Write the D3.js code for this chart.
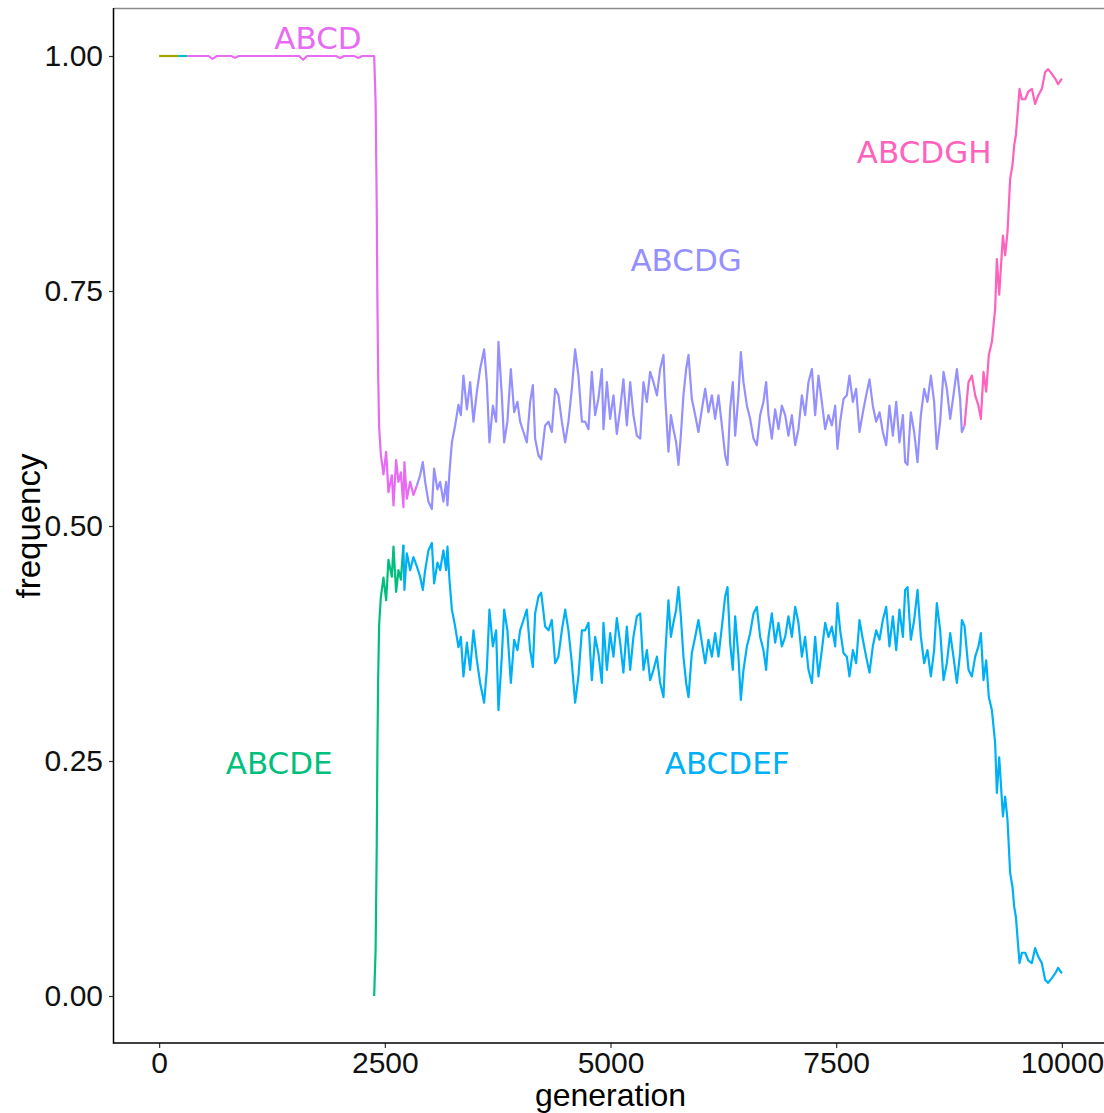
<!DOCTYPE html>
<html>
<head>
<meta charset="utf-8">
<script src="https://cdn.jsdelivr.net/npm/d3@7"></script>
<style>
  html, body { margin: 0; padding: 0; background: #fff; }
  svg { display: block; }
</style>
</head>
<body>
<svg id="chart" width="1104" height="1113"></svg>
<script>
// [generation, frequency] pairs, one array per genotype
const early1 = [[0, 1], [210, 1]];
const early2 = [[210, 1], [310, 1]];
const ABCD = [[310,1],[550,1],[590,0.997],[640,1],[800,1],[842,0.998],[880,1],[1550,1],[1595,0.996],[1640,1],[1960,1],[2005,0.998],
  [2050,1],[2160,1],[2204,0.998],[2250,1],[2374,1],
  [2382,1.000],[2398,0.951],[2410,0.845],[2418,0.738],[2426,0.664],[2437,0.605],[2456,0.576],[2485,0.555],[2515,0.579],[2540,0.536],
  [2578,0.554],[2596,0.522],[2625,0.570],[2651,0.547],[2678,0.557],[2706,0.520],[2717,0.568],[2744,0.529],[2781,0.547],[2817,0.533],[2855,0.543]];
const ABCDE = [[2382,0.000],[2398,0.049],[2410,0.155],[2418,0.262],[2426,0.336],[2437,0.395],[2456,0.424],[2485,0.445],[2515,0.421],
  [2540,0.464],[2578,0.446],[2596,0.478],[2625,0.430],[2651,0.453],[2678,0.443],[2706,0.480]];
const ABCDEF = [[2706,0.480],[2717,0.432],[2744,0.471],[2781,0.453],[2817,0.467],[2855,0.457],[2891,0.446],[2921,0.432],[2947,0.453],
  [2983,0.474],[3021,0.482],[3046,0.439],[3083,0.461],[3113,0.453],[3149,0.474],[3179,0.453],[3194,0.478],[3216,0.443],[3243,0.411],
  [3279,0.393],[3316,0.371],[3342,0.382],[3371,0.340],[3409,0.376],[3445,0.347],[3482,0.389],[3520,0.357],[3556,0.333],[3600,0.312],
  [3630,0.347],[3659,0.411],[3697,0.372],[3733,0.389],[3759,0.304],[3796,0.361],[3822,0.411],[3858,0.389],[3896,0.333],[3933,0.379],
  [3969,0.368],[3999,0.389],[4036,0.400],[4073,0.411],[4110,0.368],[4140,0.350],[4165,0.407],[4202,0.425],[4232,0.429],[4276,0.393],
  [4313,0.389],[4350,0.400],[4387,0.354],[4423,0.361],[4461,0.389],[4498,0.411],[4534,0.389],[4572,0.354],[4608,0.312],[4645,0.340],
  [4683,0.389],[4719,0.389],[4756,0.397],[4793,0.336],[4830,0.382],[4867,0.364],[4904,0.333],[4922,0.397],[4960,0.347],[4996,0.386],
  [5033,0.361],[5070,0.402],[5107,0.376],[5143,0.344],[5181,0.393],[5218,0.347],[5254,0.382],[5292,0.404],[5329,0.407],[5365,0.347],
  [5403,0.368],[5439,0.336],[5476,0.347],[5514,0.361],[5550,0.333],[5587,0.318],[5605,0.361],[5642,0.421],[5669,0.382],[5697,0.397],
  [5727,0.411],[5753,0.435],[5779,0.404],[5808,0.361],[5838,0.333],[5864,0.318],[5901,0.365],[5938,0.382],[5974,0.400],[6012,0.376],
  [6049,0.354],[6085,0.379],[6123,0.361],[6159,0.386],[6196,0.361],[6234,0.393],[6270,0.425],[6296,0.435],[6325,0.376],[6355,0.347],
  [6381,0.404],[6417,0.361],[6444,0.315],[6473,0.347],[6511,0.372],[6547,0.386],[6584,0.407],[6621,0.414],[6658,0.382],[6694,0.368],
  [6724,0.347],[6750,0.382],[6787,0.407],[6824,0.376],[6861,0.397],[6898,0.372],[6935,0.382],[6971,0.404],[7009,0.382],[7046,0.414],
  [7082,0.397],[7120,0.361],[7156,0.382],[7193,0.347],[7231,0.333],[7267,0.382],[7304,0.340],[7341,0.368],[7378,0.397],[7415,0.382],
  [7452,0.393],[7489,0.372],[7514,0.418],[7544,0.389],[7581,0.365],[7618,0.361],[7647,0.340],[7685,0.368],[7721,0.354],[7758,0.400],
  [7796,0.379],[7832,0.361],[7869,0.344],[7906,0.372],[7943,0.389],[7980,0.379],[8017,0.400],[8054,0.414],[8090,0.372],[8128,0.404],
  [8165,0.368],[8201,0.411],[8239,0.382],[8264,0.432],[8290,0.435],[8327,0.379],[8364,0.400],[8401,0.432],[8438,0.382],[8475,0.354],
  [8511,0.368],[8549,0.340],[8585,0.368],[8615,0.418],[8652,0.389],[8689,0.336],[8726,0.354],[8763,0.386],[8799,0.361],[8837,0.333],
  [8873,0.365],[8892,0.400],[8921,0.394],[8966,0.347],[9003,0.340],[9040,0.361],[9076,0.372],[9103,0.386],[9132,0.336],[9162,0.357],
  [9191,0.318],[9225,0.304],[9261,0.269],[9280,0.216],[9306,0.254],[9347,0.191],[9372,0.212],[9398,0.187],[9427,0.131],[9453,0.116],
  [9472,0.095],[9491,0.084],[9531,0.035],[9557,0.046],[9594,0.046],[9627,0.038],[9668,0.035],[9704,0.051],[9738,0.042],[9778,0.035],
  [9815,0.017],[9848,0.014],[9889,0.019],[9926,0.024],[9959,0.030],[10000,0.024]];
const ABCDG = [[2855,0.543],[2891,0.554],[2921,0.568],[2947,0.547],[2983,0.526],[3021,0.518],[3046,0.561],[3083,0.539],[3113,0.547],
  [3149,0.526],[3179,0.547],[3194,0.522],[3216,0.557],[3243,0.589],[3279,0.607],[3316,0.629],[3342,0.618],[3371,0.660],[3409,0.624],
  [3445,0.653],[3482,0.611],[3520,0.643],[3556,0.667],[3600,0.688],[3630,0.653],[3659,0.589],[3697,0.628],[3733,0.611],[3759,0.696],
  [3796,0.639],[3822,0.589],[3858,0.611],[3896,0.667],[3933,0.621],[3969,0.632],[3999,0.611],[4036,0.600],[4073,0.589],[4110,0.632],
  [4140,0.650],[4165,0.593],[4202,0.575],[4232,0.571],[4276,0.607],[4313,0.611],[4350,0.600],[4387,0.646],[4423,0.639],[4461,0.611],
  [4498,0.589],[4534,0.611],[4572,0.646],[4608,0.688],[4645,0.660],[4683,0.611],[4719,0.611],[4756,0.603],[4793,0.664],[4830,0.618],
  [4867,0.636],[4904,0.667],[4922,0.603],[4960,0.653],[4996,0.614],[5033,0.639],[5070,0.598],[5107,0.624],[5143,0.656],[5181,0.607],
  [5218,0.653],[5254,0.618],[5292,0.596],[5329,0.593],[5365,0.653],[5403,0.632],[5439,0.664],[5476,0.653],[5514,0.639],[5550,0.667],
  [5587,0.682],[5605,0.639],[5642,0.579],[5669,0.618],[5697,0.603],[5727,0.589],[5753,0.565],[5779,0.596],[5808,0.639],[5838,0.667],
  [5864,0.682],[5901,0.635],[5938,0.618],[5974,0.600],[6012,0.624],[6049,0.646],[6085,0.621],[6123,0.639],[6159,0.614],[6196,0.639],
  [6234,0.607],[6270,0.575],[6296,0.565],[6325,0.624],[6355,0.653],[6381,0.596],[6417,0.639],[6444,0.685],[6473,0.653],[6511,0.628],
  [6547,0.614],[6584,0.593],[6621,0.586],[6658,0.618],[6694,0.632],[6724,0.653],[6750,0.618],[6787,0.593],[6824,0.624],[6861,0.603],
  [6898,0.628],[6935,0.618],[6971,0.596],[7009,0.618],[7046,0.586],[7082,0.603],[7120,0.639],[7156,0.618],[7193,0.653],[7231,0.667],
  [7267,0.618],[7304,0.660],[7341,0.632],[7378,0.603],[7415,0.618],[7452,0.607],[7489,0.628],[7514,0.582],[7544,0.611],[7581,0.635],
  [7618,0.639],[7647,0.660],[7685,0.632],[7721,0.646],[7758,0.600],[7796,0.621],[7832,0.639],[7869,0.656],[7906,0.628],[7943,0.611],
  [7980,0.621],[8017,0.600],[8054,0.586],[8090,0.628],[8128,0.596],[8165,0.632],[8201,0.589],[8239,0.618],[8264,0.568],[8290,0.565],
  [8327,0.621],[8364,0.600],[8401,0.568],[8438,0.618],[8475,0.646],[8511,0.632],[8549,0.660],[8585,0.632],[8615,0.582],[8652,0.611],
  [8689,0.664],[8726,0.646],[8763,0.614],[8799,0.639],[8837,0.667],[8873,0.635],[8892,0.600],[8921,0.606]];
const ABCDGH = [[8921,0.606],[8966,0.653],[9003,0.660],[9040,0.639],[9076,0.628],[9103,0.614],[9132,0.664],[9162,0.643],[9191,0.682],
  [9225,0.696],[9261,0.731],[9280,0.784],[9306,0.746],[9347,0.809],[9372,0.788],[9398,0.813],[9427,0.869],[9453,0.884],[9472,0.905],
  [9491,0.916],[9531,0.965],[9557,0.954],[9594,0.954],[9627,0.962],[9668,0.965],[9704,0.949],[9738,0.958],[9778,0.965],[9815,0.983],
  [9848,0.986],[9889,0.981],[9926,0.976],[9959,0.970],[10000,0.976]];

const xTicks = [0, 2500, 5000, 7500, 10000];
const yTicks = [0, 0.25, 0.5, 0.75, 1];

// series in drawing order, with colours from ggplot's hue palette
const series = [
  { name: "early1", data: early1, color: "#A3A500" },
  { name: "early2", data: early2, color: "#00BFC4" },
  { name: "ABCD", data: ABCD, color: "#E76BF3" },
  { name: "ABCDE", data: ABCDE, color: "#00BF7D" },
  { name: "ABCDEF", data: ABCDEF, color: "#00B0F6" },
  { name: "ABCDG", data: ABCDG, color: "#9590FF" },
  { name: "ABCDGH", data: ABCDGH, color: "#FF62BC" },
];

// label positions, in data units
const labels = [
  { text: "ABCD", gen: 1760, freq: 1.019, color: "#E76BF3" },
  { text: "ABCDGH", gen: 8475, freq: 0.898, color: "#FF62BC" },
  { text: "ABCDG", gen: 5838, freq: 0.783, color: "#9590FF" },
  { text: "ABCDE", gen: 1330, freq: 0.248, color: "#00BF7D" },
  { text: "ABCDEF", gen: 6292, freq: 0.248, color: "#00B0F6" },
];

const svg = d3.select("#chart");
const width = 1104, height = 1113;
const plot = { left: 114, right: 1107, top: 9, bottom: 1043 };

const x = d3.scaleLinear().domain([-500, 10500]).range([plot.left, plot.right]);
const y = d3.scaleLinear().domain([-0.05, 1.05]).range([plot.bottom, plot.top]);

svg.append("defs").append("clipPath").attr("id", "clip")
  .append("rect")
  .attr("x", plot.left).attr("y", plot.top)
  .attr("width", plot.right - plot.left).attr("height", plot.bottom - plot.top);

// top border of the panel
svg.append("line")
  .attr("x1", plot.left).attr("x2", width)
  .attr("y1", 8.5).attr("y2", 8.5)
  .attr("stroke", "#8a8a8a").attr("stroke-width", 1.5);

const line = d3.line()
  .x((d) => x(d[0]))
  .y((d) => y(d[1]));

svg.append("g")
  .attr("clip-path", "url(#clip)")
  .selectAll("path")
  .data(series)
  .join("path")
  .attr("fill", "none")
  .attr("stroke", (d) => d.color)
  .attr("stroke-width", 2.2)
  .attr("stroke-linejoin", "round")
  .attr("d", (d) => line(d.data));

svg.append("g")
  .selectAll("text")
  .data(labels)
  .join("text")
  .attr("x", (d) => x(d.gen))
  .attr("y", (d) => y(d.freq))
  .attr("text-anchor", "middle")
  .attr("dominant-baseline", "central")
  .attr("font-family", "DejaVu Sans, sans-serif")
  .attr("font-size", 31)
  .attr("fill", (d) => d.color)
  .text((d) => d.text);

// axes
const xAxis = svg.append("g")
  .attr("transform", `translate(0,${plot.bottom})`)
  .call(d3.axisBottom(x).tickValues(xTicks).tickSize(5).tickPadding(4).tickFormat(d3.format("d")));
const yAxis = svg.append("g")
  .attr("transform", `translate(${plot.left},0)`)
  .call(d3.axisLeft(y).tickValues(yTicks).tickSize(5).tickPadding(6).tickFormat(d3.format(".2f")));

[xAxis, yAxis].forEach((g) => {
  g.select(".domain").remove();
  g.selectAll(".tick line").attr("stroke", "#333").attr("stroke-width", 1.2);
  g.selectAll(".tick text")
    .attr("font-family", "Liberation Sans, Arial, sans-serif")
    .attr("font-size", 30)
    .attr("fill", "#111");
});

// axis lines
svg.append("line")
  .attr("x1", plot.left - 0.5).attr("x2", width)
  .attr("y1", plot.bottom).attr("y2", plot.bottom)
  .attr("stroke", "#000").attr("stroke-width", 1.5);
svg.append("line")
  .attr("x1", plot.left - 0.5).attr("x2", plot.left - 0.5)
  .attr("y1", 8).attr("y2", plot.bottom + 0.75)
  .attr("stroke", "#000").attr("stroke-width", 1.5);

// axis titles
svg.append("text")
  .attr("x", (plot.left + plot.right) / 2)
  .attr("y", 1106)
  .attr("text-anchor", "middle")
  .attr("font-family", "Liberation Sans, Arial, sans-serif")
  .attr("font-size", 32)
  .attr("fill", "#000")
  .text("generation");

svg.append("text")
  .attr("transform", `translate(40,${(plot.top + plot.bottom) / 2}) rotate(-90)`)
  .attr("text-anchor", "middle")
  .attr("font-family", "Liberation Sans, Arial, sans-serif")
  .attr("font-size", 33)
  .attr("fill", "#000")
  .text("frequency");
</script>
</body>
</html>
